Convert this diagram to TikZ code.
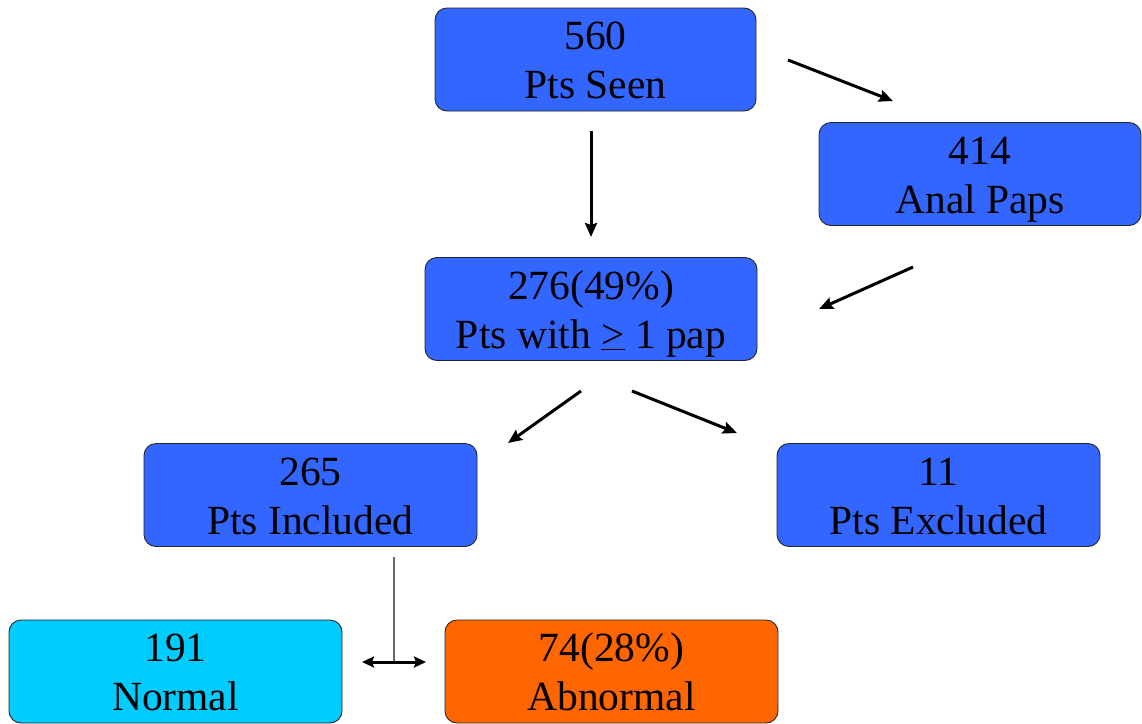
\documentclass[tikz,border=0pt]{standalone}
\usepackage{fontspec}
\setmainfont{Liberation Serif}
\newfontfamily\boxfont{Liberation Serif}
\usetikzlibrary{arrows.meta}
\definecolor{boxblue}{HTML}{3366FF}
\definecolor{boxcyan}{HTML}{00CCFF}
\definecolor{boxorange}{HTML}{FF6600}
\newcommand{\tl}[2]{\rule{0pt}{40pt}#1\\#2\rule[-11pt]{0pt}{11pt}}
\tikzset{
  flowbox/.style={draw=black!85, line width=0.9pt, rounded corners=12pt,
    fill=boxblue, inner sep=0pt, minimum height=103pt, align=center,
    font=\boxfont\fontsize{41.5}{49}\selectfont},
  flowarrow/.style={line width=3pt, -{Stealth[length=14pt,width=12pt,inset=2pt]}},
  dblarrow/.style={line width=3pt, {Stealth[length=12pt,width=11pt,inset=2pt]}-{Stealth[length=12pt,width=11pt,inset=2pt]}},
  thinline/.style={line width=1.4pt, draw=black!60}
}
\begin{document}
\begin{tikzpicture}[x=1pt,y=-1pt]
\useasboundingbox (0,0) rectangle (1142,723);

\node[flowbox, minimum width=321pt] (seen) at (595.5,59.5) {\tl{560}{Pts Seen}};
\node[flowbox, minimum width=322pt] (anal) at (980,174) {\tl{414}{Anal Paps}};
\node[flowbox, minimum width=332pt] (with) at (591,309) {\tl{276(49\%)}{Pts with \underline{>} 1 pap}};
\node[flowbox, minimum width=333pt] (incl) at (310.5,495) {\tl{265}{Pts Included}};
\node[flowbox, minimum width=323pt] (excl) at (938.5,495) {\tl{11}{Pts Excluded}};
\node[flowbox, minimum width=333pt, fill=boxcyan] (norm) at (175.5,671.5) {\tl{191}{Normal}};
\node[flowbox, minimum width=333pt, fill=boxorange] (abn) at (611.5,671.5) {\tl{74(28\%)}{Abnormal}};

\coordinate (a1s) at (788,60);  \coordinate (a1e) at (893,101);
\coordinate (a2s) at (591,131); \coordinate (a2e) at (591,237);
\coordinate (a3s) at (913,267); \coordinate (a3e) at (819,309);
\coordinate (a4s) at (581,391); \coordinate (a4e) at (508,443);
\coordinate (a5s) at (632,391); \coordinate (a5e) at (737,433);
\coordinate (vls) at (394,557); \coordinate (vle) at (394,662);
\coordinate (dl) at (362,662);  \coordinate (dr) at (426,662);

\draw[flowarrow] (a1s) -- (a1e);
\draw[flowarrow] (a2s) -- (a2e);
\draw[flowarrow] (a3s) -- (a3e);
\draw[flowarrow] (a4s) -- (a4e);
\draw[flowarrow] (a5s) -- (a5e);
\draw[thinline] (vls) -- (vle);
\draw[dblarrow] (dl) -- (dr);
\end{tikzpicture}
\end{document}
